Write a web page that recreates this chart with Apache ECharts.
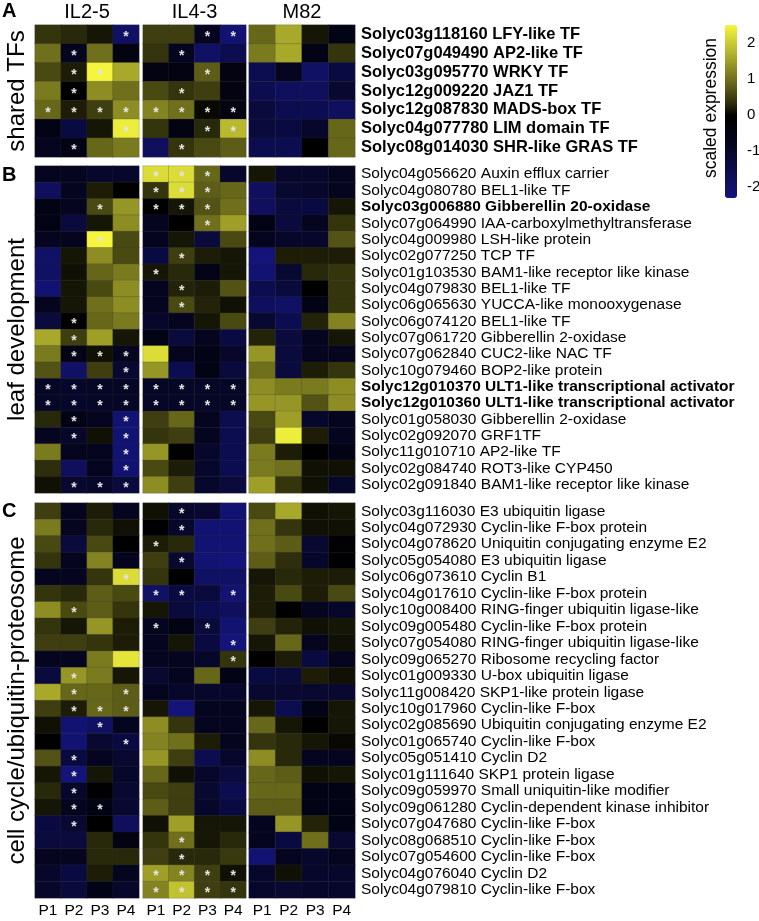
<!DOCTYPE html>
<html><head><meta charset="utf-8">
<script src="https://cdn.jsdelivr.net/npm/echarts@6/dist/echarts.min.js"></script>
<style>html,body{margin:0;padding:0;background:#fff}#c{width:759px;height:921px}</style>
</head><body><div id="c"></div>
<script>
// ---------------- data ----------------
const groups = ['IL2-5', 'IL4-3', 'M82'];
const stages = ['P1', 'P2', 'P3', 'P4'];
const sections = ['shared TFs', 'leaf development', 'cell cycle/ubiquitin-proteosome'];
const panelLetters = ['A', 'B', 'C'];
const colorbarTitle = 'scaled expression';
const colorMin = -2.3, colorMax = 2.5;

const genesA = [
  'Solyc03g118160 LFY-like TF',
  'Solyc07g049490 AP2-like TF',
  'Solyc03g095770 WRKY TF',
  'Solyc12g009220 JAZ1 TF',
  'Solyc12g087830 MADS-box TF',
  'Solyc04g077780 LIM domain TF',
  'Solyc08g014030 SHR-like GRAS TF'
];
// columns: IL2-5 P1..P4, IL4-3 P1..P4, M82 P1..P4
const valuesA = [
  [0.4, 0.3, 0.15, -1.9, 0.5, 0.5, -0.8, -2.1, 0.9, 1.6, 0.15, -0.6],
  [1.0, -0.8, 1.0, -0.5, 0.4, -0.8, -1.9, -1.6, 1.1, 1.6, -0.6, 0.4],
  [0.6, 0.2, 2.5, 1.6, -0.5, -0.5, 0.8, -0.5, -1.6, -0.8, -1.9, -1.4],
  [1.1, 0.0, 1.3, 1.0, 0.6, 0.4, 0.5, -0.5, -1.6, -1.8, -1.8, -1.1],
  [0.9, 0.2, 0.5, 1.3, 1.2, 1.0, 0.05, -0.5, -1.3, -1.6, -1.6, -1.8],
  [-0.6, -1.4, 0.15, 2.4, 0.4, -0.5, 0.3, 1.8, -1.3, -1.4, -1.0, 0.9],
  [-0.8, -0.6, 0.9, 1.1, -1.8, 0.4, 0.6, 0.8, -1.6, -1.6, 0.0, 0.9]
];
const starsA = [
  '000100110000', '010001000000', '011000100000', '010001000000',
  '111111110000', '000100110000', '010001000000'
];

const genesB = [
  'Solyc04g056620 Auxin efflux carrier',
  'Solyc04g080780 BEL1-like TF',
  'Solyc03g006880 Gibberellin 20-oxidase',
  'Solyc07g064990 IAA-carboxylmethyltransferase',
  'Solyc04g009980 LSH-like protein',
  'Solyc02g077250 TCP TF',
  'Solyc01g103530 BAM1-like receptor like kinase',
  'Solyc04g079830 BEL1-like TF',
  'Solyc06g065630 YUCCA-like monooxygenase',
  'Solyc06g074120 BEL1-like TF',
  'Solyc07g061720 Gibberellin 2-oxidase',
  'Solyc07g062840 CUC2-like NAC TF',
  'Solyc10g079460 BOP2-like protein',
  'Solyc12g010370 ULT1-like transcriptional activator',
  'Solyc12g010360 ULT1-like transcriptional activator',
  'Solyc01g058030 Gibberellin 2-oxidase',
  'Solyc02g092070 GRF1TF',
  'Solyc11g010710 AP2-like TF',
  'Solyc02g084740 ROT3-like CYP450',
  'Solyc02g091840 BAM1-like receptor like kinase'
];
const valuesB = [
  [-0.8, -0.8, -1.0, -1.0, 2.2, 2.2, 0.9, -1.0, 0.15, -1.0, -1.0, -0.8],
  [-1.8, -0.8, 0.2, 0.0, 0.4, 2.2, 0.8, 0.9, -1.8, -1.1, -1.0, -0.8],
  [-0.6, -0.8, 0.6, 1.4, 0.0, 0.15, 0.7, 1.0, -1.8, -1.3, -1.4, 0.15],
  [-0.6, -1.3, 0.15, 1.3, -0.8, 0.0, 1.0, 1.5, -0.6, -1.3, -0.8, 0.4],
  [-0.8, -0.8, 2.5, 0.6, -0.8, 0.15, -1.3, 0.6, -0.8, -1.0, -1.0, 0.7],
  [-1.9, 0.15, 1.3, 0.6, -1.4, 0.5, 0.2, 0.15, -2.2, 0.2, 0.2, 0.2],
  [-1.9, 0.1, 0.9, 1.1, 0.15, 0.3, -0.6, 0.15, -2.1, -1.1, 0.3, 0.4],
  [-2.1, 0.15, 0.6, 1.3, -0.8, 0.25, 0.2, 0.7, -1.6, -1.3, 0.0, 0.4],
  [-0.8, 0.15, 1.0, 1.3, -0.8, 0.6, 0.25, 0.1, -1.8, -1.9, -0.6, 0.4],
  [-1.3, -0.15, 0.9, 1.1, -1.0, -0.8, 0.15, 0.6, -1.1, -1.6, 0.25, 1.2],
  [1.6, 0.5, 1.5, 0.15, -0.6, -1.3, -0.8, -1.4, 0.25, -1.3, -0.8, 0.15],
  [1.1, -0.6, 0.1, -0.8, 2.2, -0.8, -0.6, -1.0, 1.4, -1.3, -0.8, -0.8],
  [0.7, -1.9, 0.5, -1.1, 1.4, -1.6, -0.6, -1.3, 1.0, -1.3, 0.2, 0.4],
  [-0.9, -1.0, -0.9, -0.9, -0.9, -0.9, -0.9, -0.9, 1.3, 1.1, 1.1, 1.3],
  [-0.9, -1.0, -0.9, -0.9, -0.9, -0.9, -0.9, -0.9, 1.4, 1.4, 0.7, 1.3],
  [0.3, -0.6, -0.8, -2.1, 0.5, 0.9, -0.8, -1.6, 0.6, 1.5, -1.0, -0.8],
  [-0.8, -1.0, 0.1, -2.1, 0.4, 0.5, -0.8, -1.6, 0.5, 2.4, 0.2, -0.8],
  [1.1, -0.8, -0.8, -2.1, 1.4, -0.15, -1.0, -1.6, 1.1, 0.2, 0.0, -0.6],
  [0.35, -1.8, -0.8, -2.1, 0.6, 0.2, -1.0, -1.6, 1.1, 1.0, 0.1, 0.1],
  [0.1, -1.1, -1.0, -1.3, 1.3, 0.5, -1.0, -1.3, 1.5, 0.4, 0.1, -1.0]
];
const starsB = [
  '000011100000', '000011100000', '001011100000', '000000100000', '001000000000',
  '000001000000', '000010000000', '000001000000', '000001000000', '010000000000',
  '010000000000', '011100000000', '000100000000', '111111110000', '111111110000',
  '010100000000', '010100000000', '000100000000', '000100000000', '011100000000'
];
const boldGenes = [
  'Solyc03g006880 Gibberellin 20-oxidase',
  'Solyc12g010370 ULT1-like transcriptional activator',
  'Solyc12g010360 ULT1-like transcriptional activator'
];

const genesC = [
  'Solyc03g116030 E3 ubiquitin ligase',
  'Solyc04g072930 Cyclin-like F-box protein',
  'Solyc04g078620 Uniquitin conjugating enzyme E2',
  'Solyc05g054080 E3 ubiquitin ligase',
  'Solyc06g073610 Cyclin B1',
  'Solyc04g017610 Cyclin-like F-box protein',
  'Solyc10g008400 RING-finger ubiquitin ligase-like',
  'Solyc09g005480 Cyclin-like F-box protein',
  'Solyc07g054080 RING-finger ubiquitin ligase-like',
  'Solyc09g065270 Ribosome recycling factor',
  'Solyc01g009330 U-box ubiquitin ligase',
  'Solyc11g008420 SKP1-like protein ligase',
  'Solyc10g017960 Cyclin-like F-box',
  'Solyc02g085690 Ubiquitin conjugating enzyme E2',
  'Solyc01g065740 Cyclin-like F-box',
  'Solyc05g051410 Cyclin D2',
  'Solyc01g111640 SKP1 protein ligase',
  'Solyc09g059970 Small uniquitin-like modifier',
  'Solyc09g061280 Cyclin-dependent kinase inhibitor',
  'Solyc07g047680 Cyclin-like F-box',
  'Solyc08g068510 Cyclin-like F-box',
  'Solyc07g054600 Cyclin-like F-box',
  'Solyc04g076040 Cyclin D2',
  'Solyc04g079810 Cyclin-like F-box'
];
const valuesC = [
  [0.5, -0.8, 0.2, -0.8, 0.1, -1.0, -1.1, -2.1, 0.6, 1.6, 0.1, 0.15],
  [1.1, -0.8, 0.3, 0.1, 0.0, -1.0, -2.1, -2.1, 1.0, 0.4, 0.1, 0.1],
  [0.6, -1.3, 0.6, 0.0, 0.2, 0.3, -2.1, -2.1, 1.0, 0.8, -1.1, -0.15],
  [0.4, -0.8, 1.2, -0.8, 0.5, -1.1, -2.1, -2.2, 0.8, 0.35, -1.0, -0.15],
  [-0.8, -0.8, 0.4, 2.2, 0.4, 0.0, -1.9, -1.9, 0.15, 0.3, 0.2, 0.2],
  [0.4, 0.3, 0.8, 0.6, -1.9, -1.4, -1.3, -2.1, 0.2, 0.6, 0.2, 0.6],
  [1.3, 0.6, 0.8, 0.4, 0.15, -1.3, -1.6, -1.8, 0.2, 0.0, -0.8, -1.0],
  [0.4, 0.15, 1.4, 0.2, -0.8, -0.6, -1.3, -2.1, 0.5, 0.25, 0.1, 0.15],
  [0.5, 0.5, 0.4, 0.2, -0.8, 0.15, -1.4, -2.2, 0.15, 0.9, -0.8, 0.1],
  [-0.8, -0.8, 1.1, 2.3, -0.8, -0.8, -1.0, 0.4, 0.0, 0.2, -1.4, -0.8],
  [-1.3, 1.4, 1.1, 0.15, -1.1, -0.8, 0.9, -0.6, -1.4, -1.3, 0.2, 0.1],
  [1.6, 0.9, 0.9, 0.8, -0.8, -1.0, -1.0, -1.0, -1.1, -1.1, -1.1, -1.1],
  [0.5, 0.2, 0.9, 0.8, 0.15, -2.2, -0.8, -0.8, 0.15, -1.6, -0.6, 0.15],
  [0.1, -2.1, -1.9, -0.8, 1.3, 0.4, -0.8, -0.8, 0.9, 0.15, 0.0, 0.15],
  [0.0, -2.1, -1.1, -1.4, 1.2, 1.0, 0.2, -0.8, 0.4, 0.3, 0.15, 0.05],
  [0.7, -1.4, -0.8, -1.1, 1.4, 0.5, -1.6, -1.0, 1.3, 0.3, -0.8, -0.8],
  [0.15, -2.2, 0.15, -1.0, 0.9, 0.1, -1.0, -1.3, 0.9, 0.8, 0.1, 0.15],
  [0.3, -1.0, -0.15, -1.1, 0.6, 0.5, -1.1, -1.6, 0.9, 0.9, -0.6, -0.6],
  [0.15, -0.8, -0.6, -1.1, 0.8, 0.5, -1.0, -1.4, 0.8, 0.8, -0.6, -0.6],
  [-1.4, -1.1, 0.0, -1.8, 0.1, 1.5, 0.15, 0.15, -0.8, 1.4, 0.25, -0.6],
  [-1.3, -1.3, 0.3, -0.5, 0.4, 1.0, 0.15, 0.3, -0.8, -1.4, 1.0, -1.1],
  [-0.8, -0.8, 0.3, 0.3, 0.5, 0.3, 0.3, 0.45, -2.1, -0.8, -1.0, -0.8],
  [-1.0, -1.4, 0.2, -0.8, 1.5, 1.2, 0.5, 0.1, -1.0, 0.1, -1.0, -1.0],
  [-1.0, -1.3, -0.6, -1.0, 1.2, 1.9, 0.5, 0.4, -1.0, -1.1, -1.0, -1.0]
];
const starsC = [
  '000001000000', '000001000000', '000010000000', '000001000000', '000100000000',
  '000011010000', '010000000000', '000010100000', '000000010000', '000000010000',
  '010000000000', '010100000000', '011100000000', '001000000000', '000100000000',
  '010000000000', '010000000000', '010000000000', '011000000000', '010000000000',
  '000001000000', '000001000000', '000011110000', '000011110000'
];

// ---------------- layout / style ----------------
const FONT = '"Liberation Sans", Arial, Helvetica, sans-serif';
const panels = [
  { genes: genesA, values: valuesA, stars: starsA, top: 25, height: 132, fontSize: 16.5, allBold: true },
  { genes: genesB, values: valuesB, stars: starsB, top: 166, height: 327, fontSize: 15.5, allBold: false },
  { genes: genesC, values: valuesC, stars: starsC, top: 503, height: 395, fontSize: 15.5, allBold: false }
];
const groupBoxes = [{ left: 35, width: 104 }, { left: 143, width: 103 }, { left: 249, width: 106 }];

function cmapColor(v) {
  let r, g, b;
  if (v >= 0) {
    const t = Math.pow(Math.min(v / 2.5, 1), 0.85);
    r = 245 * t; g = 245 * t; b = 62 * t;
  } else {
    const t = Math.pow(Math.min(-v / 2.3, 1), 1.3);
    r = 20 * t; g = 20 * t; b = 128 * t;
  }
  return 'rgb(' + Math.round(r) + ',' + Math.round(g) + ',' + Math.round(b) + ')';
}
const cmap = [];
for (let i = 0; i <= 96; i++) cmap.push(cmapColor(colorMin + (colorMax - colorMin) * i / 96));

const grid = [], xAxis = [], yAxis = [], series = [];
panels.forEach((p, pi) => {
  groupBoxes.forEach((gb, gi) => {
    const idx = pi * 3 + gi;
    grid.push({ left: gb.left, width: gb.width, top: p.top, height: p.height, containLabel: false, outerBoundsMode: 'none' });
    xAxis.push({
      type: 'category', gridIndex: idx, data: stages, position: 'bottom',
      axisLine: { show: false }, axisTick: { show: false }, splitLine: { show: false },
      axisLabel: { show: pi === 2, interval: 0, margin: 5, fontSize: 15.5, color: '#000', fontFamily: FONT }
    });
    const isRight = gi === 2;
    yAxis.push({
      type: 'category', gridIndex: idx, data: p.genes, inverse: true, position: isRight ? 'right' : 'left',
      axisLine: { show: false }, axisTick: { show: false }, splitLine: { show: false },
      axisLabel: {
        show: isRight, interval: 0, margin: 6, fontSize: p.fontSize, color: '#000', fontFamily: FONT,
        fontWeight: p.allBold ? 'bold' : 'normal',
        formatter: v => (!p.allBold && boldGenes.includes(v)) ? '{b|' + v + '}' : v,
        rich: { b: { fontWeight: 'bold', fontSize: p.fontSize, fontFamily: FONT, color: '#000' } }
      }
    });
    const data = [];
    p.values.forEach((row, ri) => {
      for (let c = 0; c < 4; c++) {
        data.push([c, ri, row[gi * 4 + c], p.stars[ri][gi * 4 + c] === '1' ? 1 : 0]);
      }
    });
    series.push({
      type: 'heatmap', xAxisIndex: idx, yAxisIndex: idx, data: data,
      encode: { x: 0, y: 1, value: 2 },
      itemStyle: { borderColor: 'rgba(60,60,60,0.45)', borderWidth: 0.5 },
      emphasis: { disabled: true },
      label: {
        show: true, formatter: q => q.data[3] ? '*' : '',
        color: '#e4e4e4', fontSize: 14, fontWeight: 'bold', fontFamily: FONT, offset: [0, 3]
      }
    });
  });
});

// colorbar axis
grid.push({ left: 725, top: 25, width: 12, height: 173, containLabel: false, outerBoundsMode: 'none' });
xAxis.push({ type: 'value', gridIndex: 9, show: false, min: 0, max: 1 });
yAxis.push({
  type: 'value', gridIndex: 9, min: colorMin, max: colorMax, position: 'right',
  axisLine: { show: false }, axisTick: { show: false }, splitLine: { show: false },
  axisLabel: {
    margin: 10, fontSize: 15, color: '#000', fontFamily: FONT, showMinLabel: false, showMaxLabel: false,
    formatter: v => (Math.abs(v - Math.round(v)) < 1e-6) ? String(Math.round(v)) : ''
  }
});

const graphic = [];
groups.forEach((g, gi) => {
  graphic.push({ type: 'text', x: groupBoxes[gi].left + groupBoxes[gi].width / 2, y: 12,
    style: { text: g, font: '20px ' + FONT, fill: '#000', textAlign: 'center', textVerticalAlign: 'middle', align: 'center', verticalAlign: 'middle' } });
});
const letterY = [11, 175, 511];
panels.forEach((p, pi) => {
  graphic.push({ type: 'text', x: 2, y: letterY[pi],
    style: { text: panelLetters[pi], font: 'bold 20px ' + FONT, fill: '#000', textAlign: 'left', textVerticalAlign: 'middle', align: 'left', verticalAlign: 'middle' } });
  graphic.push({ type: 'text', x: 17, y: p.top + p.height / 2, rotation: Math.PI / 2,
    style: { text: sections[pi], font: '24px ' + FONT, fill: '#000', textAlign: 'center', textVerticalAlign: 'middle', align: 'center', verticalAlign: 'middle' } });
});
graphic.push({ type: 'text', x: 711, y: 108, rotation: Math.PI / 2,
  style: { text: colorbarTitle, font: '17.5px ' + FONT, fill: '#000', textAlign: 'center', textVerticalAlign: 'middle', align: 'center', verticalAlign: 'middle' } });

const chart = echarts.init(document.getElementById('c'), null, { renderer: 'canvas' });
chart.setOption({
  backgroundColor: '#fff',
  animation: false,
  grid, xAxis, yAxis, series, graphic,
  visualMap: {
    type: 'continuous', min: colorMin, max: colorMax, dimension: 2,
    seriesIndex: [0, 1, 2, 3, 4, 5, 6, 7, 8],
    orient: 'vertical', left: 725, top: 25, itemWidth: 12, itemHeight: 173, padding: 0,
    calculable: false, hoverLink: false, realtime: false,
    inRange: { color: cmap }
  }
});
</script></body></html>
